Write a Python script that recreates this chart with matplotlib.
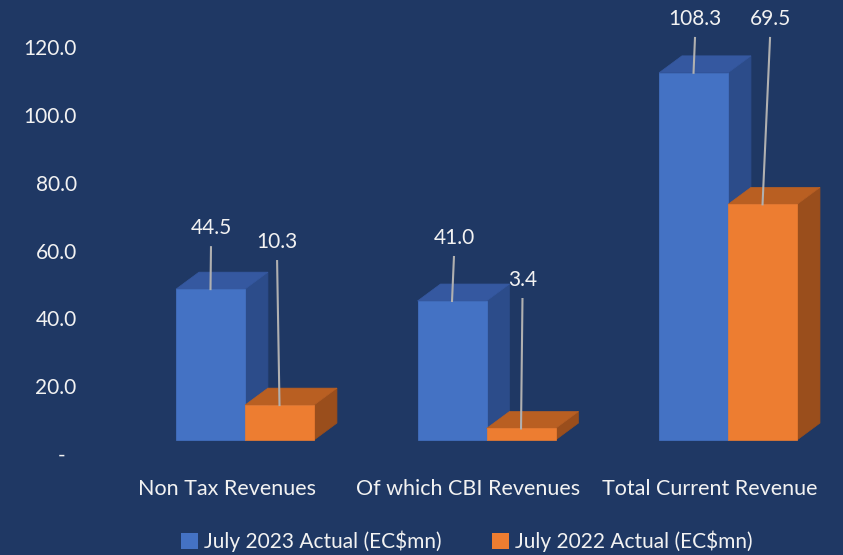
import matplotlib.pyplot as plt
from matplotlib.patches import Polygon, Patch
from matplotlib.ticker import FuncFormatter

plt.rcParams['font.family'] = ['Lato', 'DejaVu Sans']

# Data
categories = ["Non Tax Revenues", "Of which CBI Revenues", "Total Current Revenue"]
actual_2023 = [44.5, 41.0, 108.3]
actual_2022 = [10.3, 3.4, 69.5]
series_names = ["July 2023 Actual (EC$mn)", "July 2022 Actual (EC$mn)"]
yticks = [0, 20, 40, 60, 80, 100, 120]

# layout of the data labels (manually placed in the original)
label_y_2023 = [66.6, 63.7, 128.3]
label_y_2022 = [62.5, 51.3, 128.3]
label_dx_2023 = [0.002, 0.008, 0.006]
label_dx_2022 = [-0.010, 0.006, 0.031]

bg = '#1F3864'
blue = ('#4472C4', '#3558A0', '#2C4C8A')      # front, top, side
orange = ('#ED7D31', '#B95F22', '#9A4E1C')
txt = '#F2F2F2'

w = 0.2857      # bar width (category units)
dx = 0.095      # depth offset x
dy = 5.0        # depth offset y
base = 4.13     # front face floor

fig = plt.figure(figsize=(8.43, 5.55), dpi=100, facecolor=bg)
ax = fig.add_axes([85 / 843, 90 / 555, 758 / 843, 465 / 555])
ax.set_facecolor('none')
ax.set_xlim(-0.6625, 2.476)
ax.set_ylim(-3.245, 133.9)


def bar3d(x0, h, cols):
    y1 = base + h
    side = [(x0 + w, base), (x0 + w + dx, base + dy), (x0 + w + dx, y1 + dy), (x0 + w, y1)]
    top = [(x0, y1), (x0 + w, y1), (x0 + w + dx, y1 + dy), (x0 + dx, y1 + dy)]
    front = [(x0, base), (x0 + w, base), (x0 + w, y1), (x0, y1)]
    ax.add_patch(Polygon(side, closed=True, facecolor=cols[2], edgecolor=cols[2], lw=0.5))
    ax.add_patch(Polygon(top, closed=True, facecolor=cols[1], edgecolor=cols[1], lw=0.5))
    ax.add_patch(Polygon(front, closed=True, facecolor=cols[0], edgecolor=cols[0], lw=0.5))


def value_label(xc, h, ly, ldx):
    ax.plot([xc + ldx, xc], [ly - 5.6, base + h], color='#B0B0B0', lw=1.5, zorder=5)
    ax.text(xc + ldx, ly, f'{h:.1f}', color=txt, fontsize=15, ha='center', va='center', zorder=6)


for i in range(len(categories)):
    bar3d(i - w, actual_2023[i], blue)
    bar3d(i, actual_2022[i], orange)
    value_label(i - w / 2, actual_2023[i], label_y_2023[i], label_dx_2023[i])
    value_label(i + w / 2, actual_2022[i], label_y_2022[i], label_dx_2022[i])

ax.set_yticks(yticks)
ax.yaxis.set_major_formatter(FuncFormatter(lambda v, p: '-  ' if v == 0 else f'{v:.1f}'))
ax.set_xticks([i - 0.075 for i in range(len(categories))])
ax.set_xticklabels(categories)
ax.tick_params(axis='both', length=0, colors=txt, labelsize=15)
ax.tick_params(axis='x', labelsize=15.5, pad=10)
ax.tick_params(axis='y', pad=6)
for s in ax.spines.values():
    s.set_visible(False)

handles = [Patch(facecolor=blue[0], label=series_names[0]),
           Patch(facecolor=orange[0], label=series_names[1])]
fig.legend(handles=handles, loc='center', bbox_to_anchor=(0.554, 0.025), ncol=2,
           frameon=False, fontsize=15, labelcolor=txt, handlelength=0.8, handleheight=0.8,
           handletextpad=0.3, columnspacing=2.4)

fig.savefig('out.png', dpi=100, facecolor=bg)
